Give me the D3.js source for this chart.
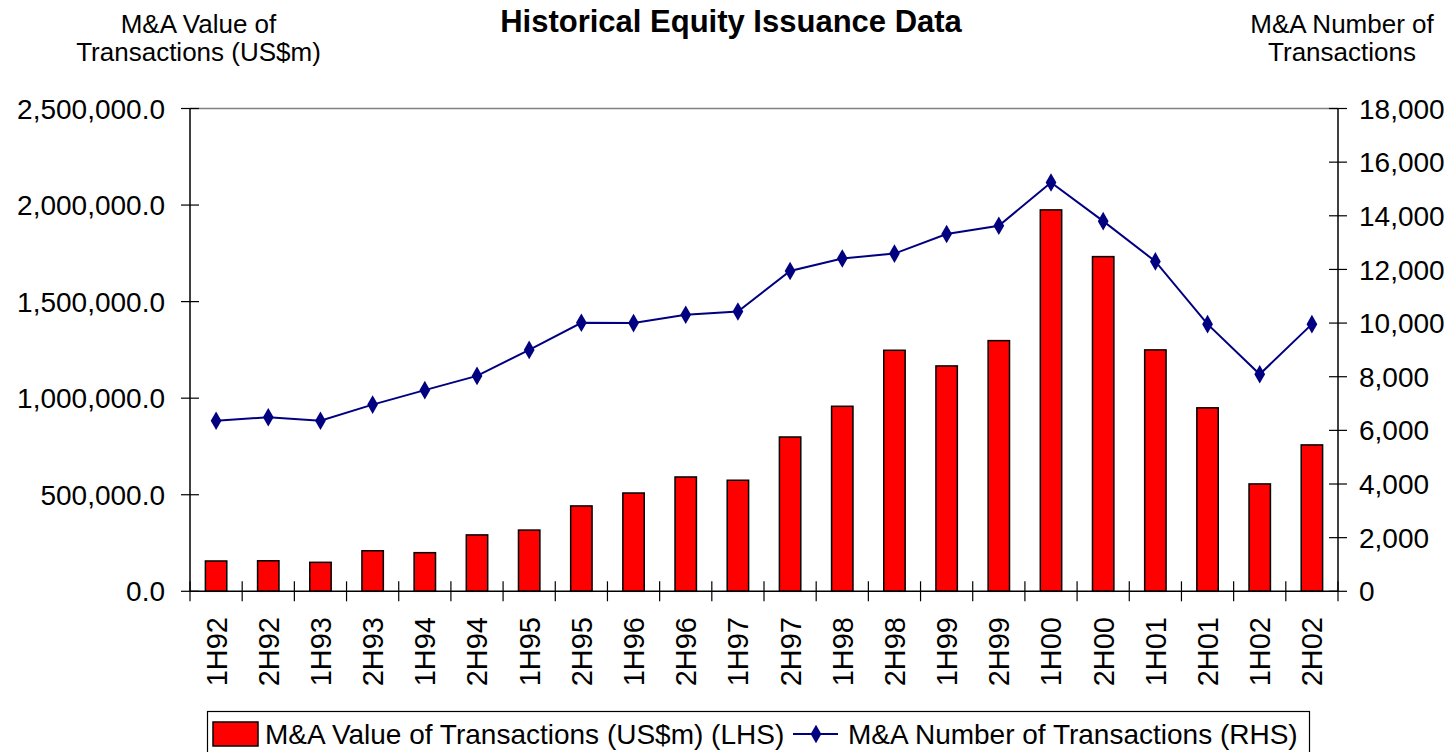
<!DOCTYPE html>
<html><head><meta charset="utf-8">
<script src="https://cdn.jsdelivr.net/npm/d3@7"></script>
<style>html,body{margin:0;padding:0;background:#fff;} svg{display:block;font-family:"Liberation Sans",Arial,sans-serif;}</style>
</head><body>
<script>
const categories = ["1H92","2H92","1H93","2H93","1H94","2H94","1H95","2H95","1H96","2H96","1H97","2H97","1H98","2H98","1H99","2H99","1H00","2H00","1H01","2H01","1H02","2H02"];
const valueSeries = [157000,158000,150000,210000,200000,292000,317000,442000,509000,592000,575000,799000,958000,1248000,1167000,1298000,1975000,1733000,1250000,950000,556000,758000];
const countSeries = [6360,6490,6360,6960,7500,8030,9000,10010,10000,10310,10430,11940,12410,12590,13320,13630,15240,13800,12300,9960,8090,9960];
const leftTicks = [0,500000,1000000,1500000,2000000,2500000];
const rightTicks = [0,2000,4000,6000,8000,10000,12000,14000,16000,18000];
const titleText = "Historical Equity Issuance Data";
const leftTitle = ["M&A Value of","Transactions (US$m)"];
const rightTitle = ["M&A Number of","Transactions"];
const legendLabels = ["M&A Value of Transactions (US$m) (LHS)","M&A Number of Transactions (RHS)"];

const W=1454,H=752;
const L=190,R=1338,T=108.5,B=591.3;
const svg=d3.select("body").append("svg").attr("width",W).attr("height",H);

const x=d3.scaleBand().domain(categories).range([L,R]).padding(0);
const yL=d3.scaleLinear().domain([0,2500000]).range([B,T]);
const yR=d3.scaleLinear().domain([0,18000]).range([B,T]);

// top border
svg.append("line").attr("x1",L).attr("x2",R).attr("y1",T).attr("y2",T).attr("stroke","#808080").attr("stroke-width",1.5);

// bars
const bw=x.bandwidth()*0.41;
svg.append("g").selectAll("rect").data(valueSeries).join("rect")
  .attr("x",(d,i)=>x(categories[i])+x.bandwidth()/2-bw/2)
  .attr("y",d=>yL(d))
  .attr("width",bw)
  .attr("height",d=>B-yL(d))
  .attr("fill","#ff0000").attr("stroke","#000").attr("stroke-width",1.5);

// left axis
const gL=svg.append("g");
gL.append("line").attr("x1",L).attr("x2",L).attr("y1",T).attr("y2",B).attr("stroke","#000").attr("stroke-width",1.5);
gL.selectAll(".t").data(leftTicks).join("line").attr("x1",L-9).attr("x2",L+9).attr("y1",d=>yL(d)).attr("y2",d=>yL(d)).attr("stroke","#000").attr("stroke-width",1.2);
gL.selectAll("text").data(leftTicks).join("text").attr("x",165).attr("y",d=>yL(d)).attr("dy","0.36em")
  .attr("text-anchor","end").attr("font-size",28).text(d=>d3.format(",.1f")(d));

// right axis
const gR=svg.append("g");
gR.append("line").attr("x1",R).attr("x2",R).attr("y1",T).attr("y2",B).attr("stroke","#000").attr("stroke-width",1.5);
gR.selectAll(".t").data(rightTicks).join("line").attr("x1",R-9).attr("x2",R+9).attr("y1",d=>yR(d)).attr("y2",d=>yR(d)).attr("stroke","#000").attr("stroke-width",1.2);
gR.selectAll("text").data(rightTicks).join("text").attr("x",1359).attr("y",d=>yR(d)).attr("dy","0.36em")
  .attr("text-anchor","start").attr("font-size",28).text(d=>d3.format(",")(d));

// bottom axis
const gB=svg.append("g");
gB.append("line").attr("x1",L).attr("x2",R).attr("y1",B).attr("y2",B).attr("stroke","#000").attr("stroke-width",1.5);
const bounds=categories.map(c=>x(c)).concat([R]);
gB.selectAll(".t").data(bounds).join("line").attr("x1",d=>d).attr("x2",d=>d).attr("y1",B-10).attr("y2",B+10).attr("stroke","#000").attr("stroke-width",1.2);
gB.selectAll("text").data(categories).join("text")
  .attr("transform",d=>`translate(${x(d)+x.bandwidth()/2},617) rotate(-90)`)
  .attr("text-anchor","end").attr("dy","0.36em").attr("font-size",29).text(d=>d);

// line
const line=d3.line().x((d,i)=>x(categories[i])+x.bandwidth()/2).y(d=>yR(d));
svg.append("path").datum(countSeries).attr("d",line).attr("fill","none").attr("stroke","#000080").attr("stroke-width",2);
const diamond=d3.symbol().type(d3.symbolDiamond).size(100);
svg.append("g").selectAll("path").data(countSeries).join("path")
  .attr("transform",(d,i)=>`translate(${x(categories[i])+x.bandwidth()/2},${yR(d)})`)
  .attr("d",diamond).attr("fill","#000080");

// titles
svg.append("text").attr("x",731).attr("y",32).attr("text-anchor","middle").attr("font-size",31).attr("font-weight","bold").text(titleText);
svg.append("g").selectAll("text").data(leftTitle).join("text").attr("x",198.5).attr("y",(d,i)=>33+i*28)
  .attr("text-anchor","middle").attr("font-size",26).text(d=>d);
svg.append("g").selectAll("text").data(rightTitle).join("text").attr("x",1342).attr("y",(d,i)=>33+i*28)
  .attr("text-anchor","middle").attr("font-size",26).text(d=>d);

// legend
const lg=svg.append("g");
lg.append("rect").attr("x",207.5).attr("y",711.5).attr("width",1102).attr("height",60).attr("fill","#fff").attr("stroke","#000").attr("stroke-width",1.2);
lg.append("rect").attr("x",213).attr("y",722).attr("width",45).attr("height",24).attr("fill","#ff0000").attr("stroke","#000").attr("stroke-width",1.5);
lg.append("text").attr("x",265).attr("y",734).attr("dy","0.36em").attr("font-size",28).text(legendLabels[0]);
lg.append("line").attr("x1",793).attr("x2",838).attr("y1",734).attr("y2",734).attr("stroke","#000080").attr("stroke-width",2);
lg.append("path").attr("transform","translate(816,734)").attr("d",diamond).attr("fill","#000080");
lg.append("text").attr("x",848).attr("y",734).attr("dy","0.36em").attr("font-size",28).text(legendLabels[1]);
</script>
</body></html>
